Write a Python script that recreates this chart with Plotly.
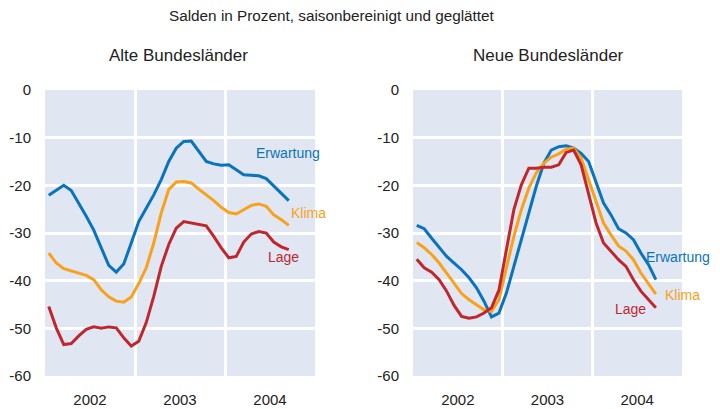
import plotly.graph_objects as go
from plotly.subplots import make_subplots

# Monthly data, Jan 2002 - Sep 2004 (33 months)
months = [i + 0.5 for i in range(33)]
year_ticks = [6, 18, 30]
year_labels = ["2002", "2003", "2004"]
year_breaks = [12, 24]

alte_erwartung = [-22.1, -21.1, -20.0, -21.1, -23.7, -26.5, -29.4, -33.1, -36.8, -38.2, -36.5,
                  -32.1, -27.6, -24.8, -22.0, -18.8, -15.0, -12.2, -10.8, -10.7, -12.9, -15.0,
                  -15.5, -15.8, -15.7, -16.7, -17.8, -17.9, -18.0, -18.6, -20.1, -21.6, -23.2]
alte_klima = [-34.2, -36.3, -37.5, -38.0, -38.4, -38.9, -39.8, -41.9, -43.4, -44.3, -44.5,
              -43.4, -40.6, -37.3, -32.1, -25.8, -20.9, -19.3, -19.2, -19.5, -20.8, -22.0,
              -23.2, -24.6, -25.7, -26.0, -25.1, -24.2, -23.9, -24.4, -26.2, -27.2, -28.4]
alte_lage = [-45.4, -49.9, -53.4, -53.2, -51.6, -50.2, -49.7, -50.0, -49.7, -49.9, -52.0,
             -53.7, -52.7, -48.8, -43.3, -37.0, -32.4, -29.0, -27.6, -27.9, -28.1, -28.5,
             -30.7, -33.1, -35.2, -34.9, -31.9, -30.2, -29.7, -30.0, -31.9, -32.9, -33.5]

neue_erwartung = [-28.4, -29.1, -31.1, -33.1, -34.9, -36.3, -37.7, -39.4, -41.5, -44.3, -47.6,
                  -46.8, -42.6, -37.0, -31.4, -25.8, -20.2, -15.4, -12.6, -11.9, -11.7, -12.2,
                  -13.3, -15.0, -19.2, -23.7, -26.2, -29.1, -30.0, -31.4, -34.2, -36.6, -39.8]
neue_klima = [-32.0, -33.1, -34.5, -36.3, -38.4, -40.6, -42.7, -44.0, -45.0, -46.1, -46.5,
              -44.0, -37.3, -30.7, -25.1, -20.6, -17.4, -15.4, -14.1, -13.4, -12.4, -12.2,
              -14.3, -18.8, -23.7, -27.9, -30.4, -32.7, -33.8, -35.6, -38.4, -40.5, -42.8]
neue_lage = [-35.5, -37.3, -38.2, -39.8, -42.2, -45.2, -47.5, -47.9, -47.6, -46.8, -45.7,
             -42.0, -33.5, -25.1, -19.9, -16.4, -16.4, -16.2, -16.2, -15.7, -13.1, -12.6,
             -15.7, -21.6, -27.9, -32.1, -33.8, -35.6, -37.0, -39.8, -42.2, -44.0, -45.7]

y_ticks = [0, -10, -20, -30, -40, -50, -60]
y_tick_labels = ["0", "-10", "-20", "-30", "-40", "-50", "-60"]

BLUE = "#0a73bd"
ORANGE = "#f9a11b"
RED = "#c0272d"
BG = "#e0e7f3"
TXT = "#222222"
FONT = "Liberation Sans, Arial, sans-serif"

# page body has an 8px margin: positions are given in window pixels and shifted by OFF
W, H, OFF = 712, 401, 8


def px(tx):
    return (tx - OFF) / W


def py(ty):
    return 1 - (ty - OFF) / H


fig = make_subplots(rows=1, cols=2)

for col, (erw, kli, lag) in enumerate([(alte_erwartung, alte_klima, alte_lage),
                                       (neue_erwartung, neue_klima, neue_lage)], start=1):
    for series, color, name in [(erw, BLUE, "Erwartung"), (kli, ORANGE, "Klima"), (lag, RED, "Lage")]:
        fig.add_trace(go.Scatter(x=months, y=series, mode="lines", name=name,
                                 line=dict(color=color, width=3), showlegend=False),
                      row=1, col=col)

xcommon = dict(range=[0, 36], tickvals=year_ticks, ticktext=year_labels, showgrid=False,
               zeroline=False, showline=False, ticks="outside", ticklen=10,
               tickcolor="rgba(0,0,0,0)", automargin=False,
               tickfont=dict(family=FONT, size=15, color=TXT),
               minor=dict(tickvals=year_breaks, showgrid=True, gridcolor="white", gridwidth=3,
                          ticks=""))
ycommon = dict(range=[-60, 0], tickvals=y_ticks, ticktext=y_tick_labels, showgrid=True,
               gridcolor="white", gridwidth=3,
               zeroline=False, showline=False, ticks="outside", ticklen=10,
               tickcolor="rgba(0,0,0,0)", automargin=False,
               tickfont=dict(family=FONT, size=15, color=TXT))

fig.update_layout(
    width=W, height=H,
    margin=dict(l=0, r=0, t=0, b=0, autoexpand=False),
    paper_bgcolor="white",
    plot_bgcolor=BG,
    xaxis=dict(domain=[px(45), px(315)], **xcommon),
    xaxis2=dict(domain=[px(413), px(682)], **xcommon),
    yaxis=dict(domain=[py(376), py(90)], **ycommon),
    yaxis2=dict(domain=[py(376), py(90)], **ycommon),
)


def lab(text, xref, yref, x, y, color, size=14, **kw):
    return dict(text=text, xref=xref, yref=yref, x=x, y=y, showarrow=False,
                xanchor="center", yanchor="middle",
                font=dict(family=FONT, size=size, color=color), **kw)


annotations = [
    lab("Salden in Prozent, saisonbereinigt und geglättet", "paper", "paper",
        px(332), py(16), TXT, size=15.3),
    lab("Alte Bundesländer", "paper", "paper", px(178), py(55.5), TXT, size=17),
    lab("Neue Bundesländer", "paper", "paper", px(548), py(55.5), TXT, size=17),
    lab("Erwartung", "x", "y", 32.4, -13.2, BLUE),
    lab("Klima", "x", "y", 35.1, -25.7, ORANGE),
    lab("Lage", "x", "y", 31.8, -35.0, RED),
    lab("Erwartung", "x2", "y2", 36.0, -35.0, BLUE, xshift=-4),
    lab("Klima", "x2", "y2", 36.0, -43.0, ORANGE),
    lab("Lage", "x2", "y2", 29.05, -46.0, RED),
]
fig.update_layout(annotations=annotations)

fig.write_html("out.html")
